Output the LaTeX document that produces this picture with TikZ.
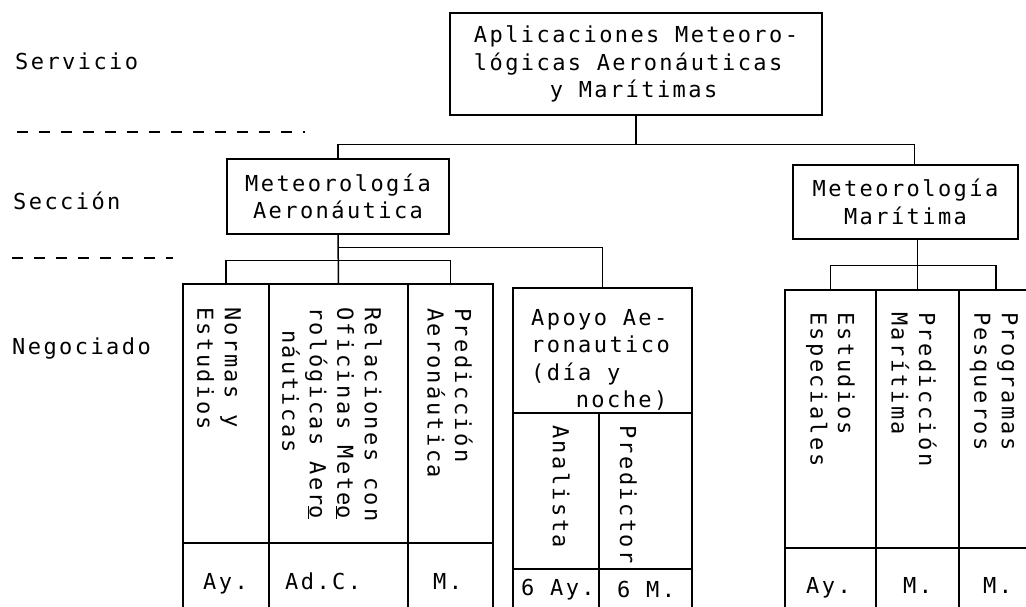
\documentclass[tikz,border=0pt]{standalone}
\usepackage{fontspec}
\setmonofont[LetterSpace=11]{DejaVu Sans Mono}
\usetikzlibrary{positioning}
\newcommand\maquina{\fontsize{22}{27.5}\selectfont\ttfamily}
\begin{document}
\begin{tikzpicture}
[x=1pt,y=-1pt,
  boxdecorate/.style={draw,line width=1.4pt,inner sep=0pt,font=\maquina,align=center},%
  celldecorate/.style={draw,line width=1.3pt,inner sep=0pt},%
  textdecorate/.style={font=\maquina,inner sep=0pt,anchor=base west},%
  vertdecorate/.style={font=\maquina,inner sep=0pt,align=left,rotate=-90,anchor=north west},%
  linedecorate/.style={-,line width=1.5pt},%
  dashdecorate/.style={line width=1.3pt,dash pattern=on 11pt off 11pt}]
\useasboundingbox (0,0) rectangle (1026,607);
%% levels
\node[textdecorate] (servicio) at (15,70) {Servicio};
\node[textdecorate] (seccion) at (13,210) {Sección};
\node[textdecorate] (negociado) at (12,354) {Negociado};
\draw[dashdecorate] (17,132) -- (305,132);
\draw[dashdecorate] (12,258) -- (173,258);
%% boxes
\node[boxdecorate,minimum width=372,minimum height=102,align=left] (aplic) at (636,64)
  {Aplicaciones Meteoro-\\lógicas Aeronáuticas\\\hphantom{nnnnn}y Marítimas};
\node[boxdecorate,minimum width=222,minimum height=75] (aero) at (338,196.5)
  {Meteorología\\Aeronáutica};
\node[boxdecorate,minimum width=225,minimum height=74] (mar) at (905.5,202)
  {Meteorología\\Marítima};
%% columns
\foreach \nodename/\x/\y/\w/\h in {normas/226/448/86/328, relac/338.5/448/139/328,
  predaer/450.5/448/85/328, apoyo/602.5/350.5/179/125, analista/556/512.5/86/199,
  predictor/645.5/512.5/93/199, estud/830.5/451/91/322, predmar/917.5/451/83/322,
  progr/996/451/74/322} {
  \node[celldecorate,minimum width=\w,minimum height=\h] (\nodename) at (\x,\y) {};
}
\draw[celldecorate] (normas.west |- 0,543) -- (predaer.east |- 0,543);
\draw[celldecorate] (analista.west |- 0,569) -- (predictor.east |- 0,569);
\draw[celldecorate] (estud.west |- 0,548) -- (progr.east |- 0,548);
%% texts
\node[font=\maquina,inner sep=0pt,align=left,anchor=north west] (apoyotxt) at (531,309)
  {Apoyo Ae-\\ronautico\\(día y\\\hphantom{nnn}noche)};
\foreach \nodename/\x/\y/\label in {normastxt/241/307/{Normas y\\Estudios},
  relactxt/382/307/{Relaciones con\\Oficinas Mete\underline{o}\\rológicas Aer\underline{o}\\\hspace*{23pt}náuticas},
  predaertxt/473/308/{Predicción\\Aeronáutica}, analistatxt/570/425/{Analista},
  predictortxt/637/425/{Predictor}, estudtxt/855/312/{Estudios\\Especiales},
  predmartxt/937/312/{Predicción\\Marítima}, progrtxt/1018/312/{Programas\\Pesqueros}} {
  \node[vertdecorate] (\nodename) at (\x,\y) {\label};
}
\foreach \nodename/\x/\y/\label in {ayA/203/589/Ay., adc/285/589/Ad.C., mA/433/589/M.,
  sixay/521/595/6 Ay., sixm/617/597/6 M., ayB/806/593/Ay., mB/903/593/M., mC/983/593/M.} {
  \node[textdecorate] (\nodename) at (\x,\y) {\label};
}
%% edges or lines
\draw[linedecorate] (aplic.south) -- ++(0,29) coordinate (bus) -| (aero.north);
\draw[linedecorate] (bus) -| ([xshift=9]mar.north);
\draw[linedecorate] (aero.south) -- (relac.north);
\draw[linedecorate] (aero.south) ++(0,13) -| (apoyo.north);
\draw[linedecorate] (normas.north) -- ++(0,-23) -| (predaer.north);
\draw[linedecorate] (predmar.north) -- (predmar.north |- mar.south);
\draw[linedecorate] (estud.north) -- ++(0,-24) -| (progr.north);
\end{tikzpicture}
\end{document}
